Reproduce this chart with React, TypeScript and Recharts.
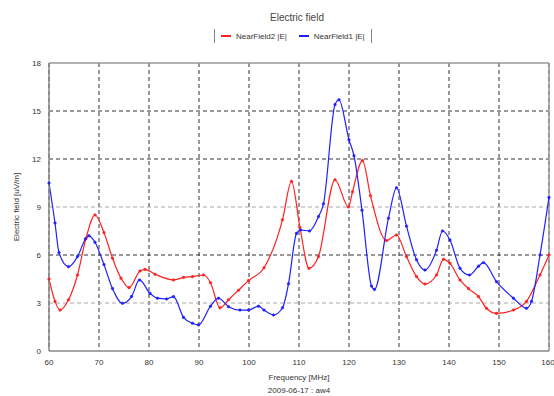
import React from 'react';
import { LineChart, Line, XAxis, YAxis, CartesianGrid, ReferenceLine } from 'recharts';

const freqRed = [60, 61.2, 62.2, 63.9, 65.7, 67.4, 69.2, 71, 72.7, 74.4, 76, 78.2, 79.2, 81.2, 84.9, 86.9, 88.7, 90.9, 92.3, 94.2, 95.9, 97.9, 99.9, 103, 106.7, 108.5, 110.2, 112, 113.9, 117.2, 119.9, 120.7, 122.7, 124.3, 127.5, 129.5, 131.5, 133.5, 135.2, 137.5, 138.9, 140.2, 142.2, 143.9, 145.9, 147.5, 149.5, 152.9, 155.5, 158.2, 160];
const nearField2 = [4.5, 3.1, 2.56, 3.2, 4.75, 7.05, 8.5, 7.4, 5.8, 4.55, 3.96, 5.0, 5.1, 4.8, 4.44, 4.6, 4.65, 4.75, 4.27, 2.7, 3.2, 3.8, 4.4, 5.2, 8.2, 10.6, 7.7, 5.17, 5.9, 10.7, 9.0, 9.95, 11.9, 9.7, 6.9, 7.25, 5.9, 4.65, 4.19, 4.75, 5.73, 5.48, 4.44, 3.9, 3.4, 2.67, 2.35, 2.56, 3.1, 4.75, 6.0];

const freqBlue = [60, 61.2, 62, 63.9, 65.7, 67.3, 68, 69.2, 71, 72.7, 74.7, 76.5, 78.1, 80.2, 81.7, 83.5, 84.9, 86.9, 88.7, 89.9, 92.3, 93.9, 95.9, 98.2, 99.9, 101.9, 103, 104.9, 106.7, 107.9, 109.5, 110.3, 112.1, 113.9, 114.9, 117.2, 118, 120, 121, 122.6, 124.5, 125.1, 127.9, 129.5, 131.5, 133.5, 135.2, 137.5, 138.7, 140.2, 142.2, 144.1, 145.9, 146.9, 149.5, 152.9, 155.5, 156.5, 158.2, 160];
const nearField1 = [10.5, 8.0, 6.15, 5.27, 5.9, 7.0, 7.2, 6.8, 5.4, 3.9, 2.98, 3.4, 4.44, 3.6, 3.3, 3.25, 3.4, 2.1, 1.73, 1.63, 2.8, 3.3, 2.77, 2.56, 2.56, 2.8, 2.56, 2.25, 2.7, 4.2, 7.35, 7.56, 7.5, 8.4, 9.2, 15.4, 15.7, 13.2, 12.2, 8.8, 4.06, 3.85, 8.3, 10.2, 7.8, 5.7, 5.06, 6.3, 7.5, 6.94, 5.17, 4.75, 5.3, 5.52, 4.33, 3.3, 2.67, 3.1, 6.0, 9.6];

const xTicks = [60, 70, 80, 90, 100, 110, 120, 130, 140, 150, 160];
const yTicks = [0, 3, 6, 9, 12, 15, 18];
const majorY = [6, 12, 15];
const minorY = [3, 9];

const redData = freqRed.map((x, i) => ({ x, y: nearField2[i] }));
const blueData = freqBlue.map((x, i) => ({ x, y: nearField1[i] }));

const FONT = '"Liberation Sans", Arial, sans-serif';
const RED = '#ff2020';
const BLUE = '#2020ff';

const LegendBox = () => (
  <div
    style={{
      position: 'absolute',
      left: 214,
      top: 29,
      display: 'flex',
      alignItems: 'center',
      borderLeft: '1px solid #888',
      borderRight: '1px solid #888',
      padding: '1px 6px',
      fontFamily: FONT,
      fontSize: 8,
      color: '#333',
      gap: 12,
      height: 12,
      background: '#fff',
    }}
  >
    <span style={{ display: 'flex', alignItems: 'center' }}>
      <span style={{ display: 'inline-block', width: 10, height: 1.5, background: RED, marginRight: 5 }} />
      NearField2 |E|
    </span>
    <span style={{ display: 'flex', alignItems: 'center' }}>
      <span style={{ display: 'inline-block', width: 10, height: 1.5, background: BLUE, marginRight: 5 }} />
      NearField1 |E|
    </span>
  </div>
);

export default function App() {
  return (
    <div style={{ position: 'absolute', left: 0, top: 0, width: 554, height: 396, background: '#fff' }}>
      <div style={{ position: 'absolute', left: 0, width: 554, top: 12, textAlign: 'center', fontFamily: FONT, fontSize: 10, color: '#444', paddingLeft: 40, boxSizing: 'border-box' }}>
        Electric field
      </div>
      <LegendBox />
      <LineChart
        width={554}
        height={396}
        margin={{ top: 63, right: 5, bottom: 0, left: 0 }}
      >
        <CartesianGrid horizontal={false} vertical={true} stroke="#333" strokeDasharray="4 3" />
        {minorY.map((v) => (
          <ReferenceLine key={'mi' + v} y={v} stroke="#aaa" strokeDasharray="4 3" />
        ))}
        {majorY.map((v) => (
          <ReferenceLine key={'ma' + v} y={v} stroke="#333" strokeDasharray="4 3" />
        ))}
        <ReferenceLine y={18} stroke="#999" strokeWidth={1.5} />
        <ReferenceLine x={160} stroke="#999" strokeWidth={1.5} />
        <XAxis
          type="number"
          dataKey="x"
          domain={[60, 160]}
          ticks={xTicks}
          tickLine={false}
          axisLine={{ stroke: '#888', strokeWidth: 1.5 }}
          tick={{ fontSize: 8, fill: '#333', fontFamily: FONT }}
          height={45}
          allowDuplicatedCategory={false}
        />
        <YAxis
          type="number"
          domain={[0, 18]}
          ticks={yTicks}
          tickLine={false}
          axisLine={{ stroke: '#888', strokeWidth: 1.5 }}
          tick={{ fontSize: 8, fill: '#333', fontFamily: FONT }}
          width={49}
        />
        <Line
          data={redData}
          dataKey="y"
          name="NearField2 |E|"
          type="monotone"
          stroke={RED}
          strokeWidth={1.2}
          dot={{ r: 1.3, fill: RED, stroke: RED, strokeWidth: 0.5 }}
          isAnimationActive={false}
        />
        <Line
          data={blueData}
          dataKey="y"
          name="NearField1 |E|"
          type="monotone"
          stroke={BLUE}
          strokeWidth={1.2}
          dot={{ r: 1.3, fill: BLUE, stroke: BLUE, strokeWidth: 0.5 }}
          isAnimationActive={false}
        />
      </LineChart>
      <div style={{ position: 'absolute', left: 0, width: 554, top: 373, textAlign: 'center', fontFamily: FONT, fontSize: 8, color: '#333', paddingLeft: 44, boxSizing: 'border-box' }}>
        Frequency [MHz]
      </div>
      <div style={{ position: 'absolute', left: 0, width: 554, top: 386, textAlign: 'center', fontFamily: FONT, fontSize: 8, color: '#333', paddingLeft: 44, boxSizing: 'border-box' }}>
        2009-06-17 : aw4
      </div>
      <div
        style={{
          position: 'absolute',
          left: 16,
          top: 207,
          transform: 'translate(-50%, -50%) rotate(-90deg)',
          whiteSpace: 'nowrap',
          fontFamily: FONT,
          fontSize: 8,
          color: '#333',
        }}
      >
        Electric field [uV/m]
      </div>
    </div>
  );
}
